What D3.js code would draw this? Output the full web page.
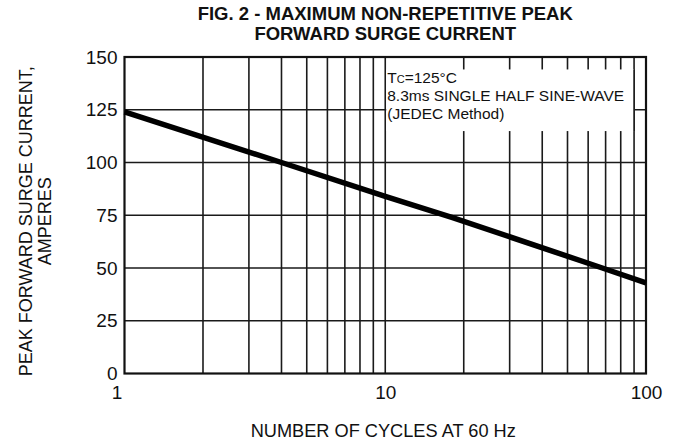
<!DOCTYPE html>
<html>
<head>
<meta charset="utf-8">
<script src="https://cdn.jsdelivr.net/npm/d3@7"></script>
<style>
  body { margin: 0; background: #fff; }
  svg { display: block; font-family: "Liberation Sans", Arial, sans-serif; }
</style>
</head>
<body>
<div id="chart"></div>
<script>
// surge current vs number of cycles
const cycles = [1, 4, 10, 18, 68, 100];
const amperes = [124, 100, 84, 74, 50, 43];

const yTicks = [0, 25, 50, 75, 100, 125, 150];
const xTicks = [1, 10, 100];
const xGrid = [2, 3, 4, 5, 6, 7, 8, 9, 10, 20, 30, 40, 50, 60, 70, 80, 90];

const titleLines = ["FIG. 2 - MAXIMUM NON-REPETITIVE PEAK", "FORWARD SURGE CURRENT"];
const yTitleLines = ["PEAK FORWARD SURGE CURRENT,", "AMPERES"];
const xTitle = "NUMBER OF CYCLES AT 60 Hz";
const noteLines = ["8.3ms SINGLE HALF SINE-WAVE", "(JEDEC Method)"];

const W = 679, H = 445;
const margin = { top: 57, right: 33, bottom: 71.5, left: 124.5 };
const width = W - margin.left - margin.right;
const height = H - margin.top - margin.bottom;

const svg = d3.select("#chart").append("svg")
  .attr("width", W)
  .attr("height", H);

const g = svg.append("g")
  .attr("transform", `translate(${margin.left},${margin.top})`);

const x = d3.scaleLog().domain([1, 100]).range([0, width]);
const y = d3.scaleLinear().domain([0, 150]).range([height, 0]);

// grid
g.selectAll(".vgrid").data(xGrid).enter().append("line")
  .attr("x1", d => x(d)).attr("x2", d => x(d))
  .attr("y1", 0).attr("y2", height)
  .attr("stroke", "#1a1a1a").attr("stroke-width", 1.6);

g.selectAll(".hgrid").data(yTicks.slice(1, -1)).enter().append("line")
  .attr("x1", 0).attr("x2", width)
  .attr("y1", d => y(d)).attr("y2", d => y(d))
  .attr("stroke", "#1a1a1a").attr("stroke-width", 1.6);

// note box covers the grid
g.append("rect")
  .attr("x", x(10) + 1)
  .attr("y", y(144.1))
  .attr("width", x(90) - x(10) - 1)
  .attr("height", y(114.9) - y(144.1))
  .attr("fill", "#fff");

g.append("line")
  .attr("x1", x(90)).attr("x2", x(90))
  .attr("y1", y(144.1)).attr("y2", y(114.9))
  .attr("stroke", "#1a1a1a").attr("stroke-width", 1.6);

const note = g.append("g")
  .attr("transform", `translate(${x(10) + 2},0)`)
  .style("font-size", "15.5px")
  .attr("fill", "#111");

const tc = note.append("text").attr("y", y(137.5));
tc.append("tspan").text("T");
tc.append("tspan").style("font-size", "11px").text("C");
tc.append("tspan").text("=125°C");

note.selectAll(".nl").data(noteLines).enter().append("text")
  .attr("y", (d, i) => y(137.5) + (i + 1) * 17.8)
  .text(d => d);

// frame
g.append("rect")
  .attr("width", width).attr("height", height)
  .attr("fill", "none")
  .attr("stroke", "#111").attr("stroke-width", 2.2);

// curve
const line = d3.line()
  .x((d, i) => x(cycles[i]))
  .y(d => y(d));

g.append("path")
  .datum(amperes)
  .attr("d", line)
  .attr("fill", "none")
  .attr("stroke", "#000")
  .attr("stroke-width", 5.5)
  .attr("stroke-linecap", "butt");

// axes
const xAxis = g.append("g")
  .attr("transform", `translate(0,${height})`)
  .call(d3.axisBottom(x).tickValues(xTicks).tickFormat(d3.format("d")).tickSize(0).tickPadding(12));
xAxis.select(".domain").remove();
xAxis.selectAll("text")
  .style("font-size", "19px")
  .style("font-family", "Liberation Sans, Arial, sans-serif")
  .attr("fill", "#111")
  .attr("dx", d => d === 1 ? -8 : 0);

const yAxis = g.append("g")
  .call(d3.axisLeft(y).tickValues(yTicks).tickSize(0).tickPadding(7));
yAxis.select(".domain").remove();
yAxis.selectAll("text")
  .style("font-size", "19px")
  .style("font-family", "Liberation Sans, Arial, sans-serif")
  .attr("fill", "#111");

// titles
svg.append("g")
  .selectAll("text").data(titleLines).enter().append("text")
  .attr("x", margin.left + width / 2)
  .attr("y", (d, i) => 20 + i * 20)
  .attr("text-anchor", "middle")
  .style("font-size", "18.5px")
  .style("font-weight", "bold")
  .attr("fill", "#111")
  .text(d => d);

svg.append("text")
  .attr("x", margin.left + width / 2 - 2)
  .attr("y", 437)
  .attr("text-anchor", "middle")
  .style("font-size", "18.2px")
  .attr("fill", "#111")
  .text(xTitle);

svg.append("g")
  .attr("transform", `translate(0,${margin.top + height / 2 + 6}) rotate(-90)`)
  .selectAll("text").data(yTitleLines).enter().append("text")
  .attr("x", 0)
  .attr("y", (d, i) => 32 + i * 19)
  .attr("text-anchor", "middle")
  .style("font-size", "18px")
  .attr("fill", "#111")
  .text(d => d);
</script>
</body>
</html>
